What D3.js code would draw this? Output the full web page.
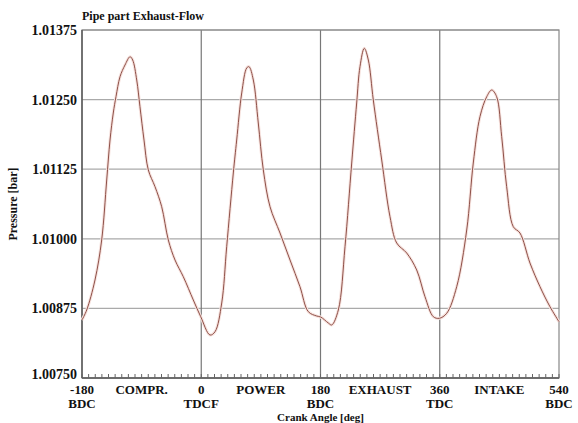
<!DOCTYPE html>
<html>
<head>
<meta charset="utf-8">
<script src="https://cdn.jsdelivr.net/npm/d3@7"></script>
<style>
  body { margin: 0; background: #fff; }
  text { font-family: "Liberation Serif", "Times New Roman", serif; font-weight: bold; fill: #111; }
</style>
</head>
<body>
<div id="chart"></div>
<script>
// crank angle [deg]
const angles = [-180, -172.9, -160.4, -150.3, -142.7, -137.7, -132.8, -128.7, -122.6, -115.1,
  -107.5, -103.5, -97.4, -92.5, -86.4, -79.9, -69.8, -59.7, -49.7, -39.6,
  -27.1, -12.0, -0.8, 13.2, 20.8, 30.9, 38.4, 48.4, 53.5, 61.1,
  68.6, 72.1, 78.6, 86.1, 93.7, 103.8, 118.9, 134.0, 149.0, 161.6,
  174.3, 180.3, 191.8, 196.9, 206.9, 217.0, 227.1, 234.6, 239.6, 246.1,
  252.2, 259.7, 272.4, 284.9, 295.0, 310.1, 325.2, 337.7, 350.3, 359.3,
  370.5, 385.6, 400.7, 410.6, 420.7, 430.9, 438.4, 445.9, 453.5, 461.0,
  471.0, 481.1, 496.2, 511.3, 526.4, 540];
// pressure [bar]
const pressure = [1.008542, 1.008721, 1.00926, 1.009978, 1.011056, 1.011774, 1.012259, 1.012552, 1.012911, 1.013121,
  1.01327, 1.013211, 1.012852, 1.012372, 1.011774, 1.011236, 1.010936, 1.010576, 1.009978, 1.009619,
  1.009319, 1.008901, 1.008601, 1.008272, 1.008331, 1.008847, 1.009858, 1.011182, 1.011774, 1.012619,
  1.013068, 1.013091, 1.012852, 1.01208, 1.011236, 1.010576, 1.010104, 1.009619, 1.00914, 1.008691,
  1.008613, 1.008595, 1.008488, 1.008452, 1.008721, 1.009858, 1.011361, 1.012439, 1.013091, 1.013421,
  1.013211, 1.012493, 1.011415, 1.010397, 1.009925, 1.009745, 1.00944, 1.008961, 1.008601, 1.008572,
  1.008662, 1.00914, 1.010158, 1.011361, 1.012193, 1.012552, 1.012672, 1.012552, 1.011834, 1.010936,
  1.010217, 1.010104, 1.009565, 1.00914, 1.00878, 1.008511];

const yTicks = [1.0075, 1.00875, 1.01, 1.01125, 1.0125, 1.01375];
const xTicks = [-180, 0, 180, 360, 540];
const xTickSub = ["BDC", "TDCF", "BDC", "TDC", "BDC"];
const phases = ["COMPR.", "POWER", "EXHAUST", "INTAKE"];
const phaseAt = [-90, 90, 270, 450];

const width = 578, height = 423;
const margin = { top: 30, right: 19, bottom: 45, left: 82 };

const svg = d3.select("#chart").append("svg")
  .attr("width", width)
  .attr("height", height);

const x = d3.scaleLinear().domain([-180, 540]).range([margin.left, width - margin.right]);
const y = d3.scaleLinear().domain([1.0075, 1.01375]).range([height - margin.bottom, margin.top]);
const yBase = y(1.0075);

// horizontal grid
svg.append("g")
  .selectAll("line")
  .data(yTicks.slice(1))
  .enter().append("line")
  .attr("x1", x(-180)).attr("x2", x(540))
  .attr("y1", d => y(d)).attr("y2", d => y(d))
  .attr("stroke", "#aaa")
  .attr("stroke-width", 1.2);

// vertical grid at 0, 180, 360
svg.append("g")
  .selectAll("line")
  .data(xTicks.slice(1, 4))
  .enter().append("line")
  .attr("x1", d => x(d)).attr("x2", d => x(d))
  .attr("y1", y(1.01375)).attr("y2", yBase)
  .attr("stroke", "#777")
  .attr("stroke-width", 1.2);

// frame
svg.append("rect")
  .attr("x", x(-180)).attr("y", y(1.01375))
  .attr("width", x(540) - x(-180))
  .attr("height", yBase - y(1.01375))
  .attr("fill", "none")
  .attr("stroke", "#888")
  .attr("stroke-width", 1.2);

// left and bottom axis lines
svg.append("line")
  .attr("x1", x(-180)).attr("x2", x(-180))
  .attr("y1", y(1.01375)).attr("y2", yBase)
  .attr("stroke", "#555").attr("stroke-width", 1.4);
svg.append("line")
  .attr("x1", x(-180)).attr("x2", x(540))
  .attr("y1", yBase).attr("y2", yBase)
  .attr("stroke", "#555").attr("stroke-width", 1.4);

// minor ticks every 10 deg, pointing up
svg.append("g")
  .selectAll("line")
  .data(d3.range(-180, 541, 10))
  .enter().append("line")
  .attr("x1", d => x(d)).attr("x2", d => x(d))
  .attr("y1", yBase).attr("y2", yBase - 4)
  .attr("stroke", "#666")
  .attr("stroke-width", 1);

// curve
const line = d3.line()
  .x(d => x(d[0]))
  .y(d => y(d[1]))
  .curve(d3.curveCatmullRom.alpha(0.5));

svg.append("path")
  .datum(angles.map((a, i) => [a, pressure[i]]))
  .attr("d", line)
  .attr("fill", "none")
  .attr("stroke", "#f6e2de")
  .attr("stroke-width", 3);
svg.append("path")
  .datum(angles.map((a, i) => [a, pressure[i]]))
  .attr("d", line)
  .attr("fill", "none")
  .attr("stroke", "#8e5048")
  .attr("stroke-width", 1);

// y tick labels
svg.append("g")
  .selectAll("text")
  .data(yTicks)
  .enter().append("text")
  .attr("x", x(-180) - 5)
  .attr("y", d => d === 1.0075 ? yBase + 0.8 : y(d) + 5)
  .attr("text-anchor", "end")
  .attr("font-size", 14)
  .text(d => d.toFixed(5));

// x tick labels: value line, then BDC/TDC line
svg.append("g")
  .selectAll("text")
  .data(xTicks)
  .enter().append("text")
  .attr("x", d => x(d))
  .attr("y", yBase + 15.5)
  .attr("text-anchor", "middle")
  .attr("font-size", 13)
  .text(d => d);

svg.append("g")
  .selectAll("text")
  .data(xTickSub)
  .enter().append("text")
  .attr("x", (d, i) => x(xTicks[i]))
  .attr("y", yBase + 30)
  .attr("text-anchor", "middle")
  .attr("font-size", 13)
  .text(d => d);

svg.append("g")
  .selectAll("text")
  .data(phases)
  .enter().append("text")
  .attr("x", (d, i) => x(phaseAt[i]))
  .attr("y", yBase + 15.5)
  .attr("text-anchor", "middle")
  .attr("font-size", 13)
  .text(d => d);

// title and axis titles
svg.append("text")
  .attr("x", x(-180))
  .attr("y", 20)
  .attr("font-size", 12)
  .text("Pipe part Exhaust-Flow");

svg.append("text")
  .attr("x", x(180))
  .attr("y", 420.5)
  .attr("text-anchor", "middle")
  .attr("font-size", 11)
  .text("Crank Angle [deg]");

svg.append("text")
  .attr("transform", `translate(17, ${(yBase + y(1.01375)) / 2}) rotate(-90)`)
  .attr("text-anchor", "middle")
  .attr("font-size", 12)
  .text("Pressure [bar]");
</script>
</body>
</html>
